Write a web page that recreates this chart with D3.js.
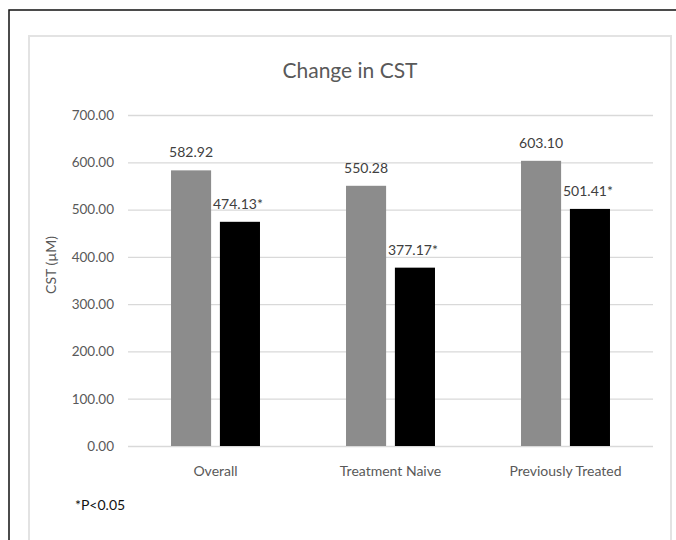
<!DOCTYPE html>
<html>
<head>
<meta charset="utf-8">
<script src="https://cdn.jsdelivr.net/npm/d3@7"></script>
<style>
  body { margin: 0; background: #fff; }
  text { font-family: Lato, "Open Sans", sans-serif; }
</style>
</head>
<body>
<div id="chart"></div>
<script>
// chart data
var categories = ["Overall", "Treatment Naive", "Previously Treated"];
var series = ["before", "after"];
var beforeValues = [582.92, 550.28, 603.10];
var afterValues = [474.13, 377.17, 501.41];
var afterLabels = ["474.13*", "377.17*", "501.41*"];
var yTicks = [0, 100, 200, 300, 400, 500, 600, 700];

var svgWidth = 676;
var svgHeight = 540;

var margin = { top: 115, right: 23, bottom: 94, left: 128 };
var width = svgWidth - margin.left - margin.right;
var height = svgHeight - margin.top - margin.bottom;

var svg = d3.select("#chart")
    .append("svg")
    .attr("width", svgWidth)
    .attr("height", svgHeight);

// outer frame (left + top + right)
svg.append("path")
    .attr("d", "M9,540 V10 H676")
    .attr("fill", "none")
    .attr("stroke", "#111")
    .attr("stroke-width", 1.5);

// chart area box
svg.append("rect")
    .attr("x", 29)
    .attr("y", 36)
    .attr("width", 642)
    .attr("height", 520)
    .attr("fill", "#fff")
    .attr("stroke", "#e3e3e3")
    .attr("stroke-width", 2);

var chartGroup = svg.append("g")
    .attr("transform", `translate(${margin.left}, ${margin.top})`);

// scales
var x0 = d3.scaleBand()
    .domain(categories)
    .range([0, width]);

var x1 = d3.scaleBand()
    .domain(series)
    .range([0, x0.bandwidth()])
    .paddingInner(0.18)
    .paddingOuter(0.88);

var yLinearScale = d3.scaleLinear()
    .domain([0, 700])
    .range([height, 0]);

// gridlines + tick labels
var leftAxis = d3.axisLeft(yLinearScale)
    .tickValues(yTicks)
    .tickSize(-width)
    .tickPadding(14)
    .tickFormat(d3.format(".2f"));

var yAxis = chartGroup.append("g").call(leftAxis);
yAxis.select(".domain").remove();
yAxis.selectAll(".tick line")
    .attr("stroke", "#d9d9d9")
    .attr("stroke-width", 1.3);
yAxis.selectAll(".tick text")
    .attr("fill", "#595959")
    .style("font-size", "13.5px");

// bars
var colors = { before: "#8c8c8c", after: "#000000" };
var rows = categories.map(function(c, i) {
    return [
        { cat: c, key: "before", value: beforeValues[i], label: d3.format(".2f")(beforeValues[i]) },
        { cat: c, key: "after", value: afterValues[i], label: afterLabels[i] }
    ];
});
var barData = rows.flat();

chartGroup.selectAll("rect.bar")
    .data(barData)
    .enter()
    .append("rect")
    .attr("class", "bar")
    .attr("x", d => x0(d.cat) + x1(d.key))
    .attr("width", x1.bandwidth())
    .attr("y", d => yLinearScale(d.value))
    .attr("height", d => height - yLinearScale(d.value))
    .attr("fill", d => colors[d.key]);

// data labels
chartGroup.selectAll("text.val")
    .data(barData)
    .enter()
    .append("text")
    .attr("class", "val")
    .attr("x", d => x0(d.cat) + x1(d.key) + x1.bandwidth() / 2 + (d.key === "after" ? -2 : 0))
    .attr("y", d => yLinearScale(d.value) - 13)
    .attr("text-anchor", "middle")
    .attr("fill", "#404040")
    .style("font-size", "14px")
    .text(d => d.label);

// category labels
chartGroup.selectAll("text.cat")
    .data(categories)
    .enter()
    .append("text")
    .attr("class", "cat")
    .attr("x", d => x0(d) + x0.bandwidth() / 2)
    .attr("y", height + 30)
    .attr("text-anchor", "middle")
    .attr("fill", "#595959")
    .style("font-size", "14px")
    .text(d => d);

// title
svg.append("text")
    .attr("x", 350)
    .attr("y", 78)
    .attr("text-anchor", "middle")
    .attr("fill", "#595959")
    .style("font-size", "21px")
    .text("Change in CST");

// y axis label
svg.append("text")
    .attr("transform", "translate(56, 265) rotate(-90)")
    .attr("text-anchor", "middle")
    .attr("fill", "#595959")
    .style("font-size", "14px")
    .text("CST (\u00b5M)");

// footnote
svg.append("text")
    .attr("x", 75)
    .attr("y", 510)
    .attr("fill", "#111")
    .style("font-size", "14px")
    .text("*P<0.05");
</script>
</body>
</html>
